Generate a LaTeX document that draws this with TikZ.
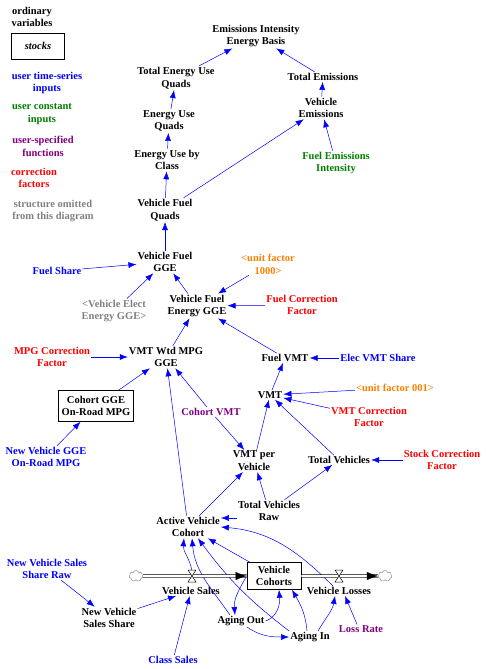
\documentclass[tikz,border=0pt]{standalone}
\usepackage{fontspec}
\setmainfont{Liberation Serif}
\usetikzlibrary{calc, positioning}
\usetikzlibrary{arrows.meta}
\usetikzlibrary{shapes.symbols}
\definecolor{vblue}{RGB}{0,0,255}
\definecolor{vgreen}{RGB}{0,128,0}
\definecolor{vpurple}{RGB}{128,0,128}
\definecolor{vred}{RGB}{255,0,0}
\definecolor{vorange}{RGB}{255,128,0}
\definecolor{vgray}{RGB}{128,128,128}

\begin{document}
\begin{tikzpicture}[x=1pt, y=1pt,
    var/.style={align=center, inner sep=1pt, font=\fontsize{10.5}{12.8}\selectfont\bfseries},
    stock/.style={var, draw, line width=0.6pt, inner sep=0pt},
    tsin/.style={var, text=vblue},
    cin/.style={var, text=vgreen},
    fun/.style={var, text=vpurple},
    corr/.style={var, text=vred},
    omit/.style={var, text=vgray},
    unitf/.style={var, text=vorange},
    link/.style={draw=vblue, line width=0.5pt, -{Latex[length=8pt,width=6pt]}},
    pipe/.style={double, double distance=2pt, line width=0.6pt},
    pipehead/.style={-{Latex[length=11pt,width=8pt]}, line width=0.2pt},
    cloudy/.style={cloud, cloud puffs=7, draw=vgray, aspect=1.2, minimum width=14pt, minimum height=11pt, inner sep=0pt},
    valve/.pic={\draw[fill=white, line width=0.5pt] (-4,6) -- (4,6) -- (-4,-6) -- (4,-6) -- cycle;}
  ]
    \useasboundingbox (0,0) rectangle (485,-669);

    \node[var] (lgord) at (32,-17) {ordinary\\variables};
    \node[stock, minimum width=53pt, minimum height=26pt, font=\fontsize{10.5}{12.8}\selectfont\bfseries\itshape] (lgstock) at (38,-46) {stocks};
    \node[tsin] (lgts) at (47,-83) {user time-series\\inputs};
    \node[cin] (lgconst) at (42,-114) {user constant\\inputs};
    \node[fun] (lgfun) at (43,-146) {user-specified\\functions};
    \node[corr] (lgcorr) at (34,-178) {correction\\factors};
    \node[omit] (lgomit) at (53,-211) {structure omitted\\from this diagram};

    \node[var] (eieb) at (256,-36) {Emissions Intensity\\Energy Basis};
    \node[var] (teuq) at (176,-78) {Total Energy Use\\Quads};
    \node[var] (totem) at (323,-77) {Total Emissions};
    \node[var] (vehem) at (321,-108) {Vehicle\\Emissions};
    \node[var] (euq) at (169,-121) {Energy Use\\Quads};
    \node[cin] (fei) at (336,-163) {Fuel Emissions\\Intensity};
    \node[var] (eubc) at (167,-160) {Energy Use by\\Class};
    \node[var] (vfq) at (165,-210) {Vehicle Fuel\\Quads};
    \node[var] (vfgge) at (165,-262) {Vehicle Fuel\\GGE};
    \node[tsin] (fshare) at (57,-271) {Fuel Share};
    \node[unitf] (uf1000) at (268,-264) {<unit factor\\1000>};
    \node[omit] (veegge) at (114,-311) {<Vehicle Elect\\Energy GGE>};
    \node[var] (vfegge) at (197,-306) {Vehicle Fuel\\Energy GGE};
    \node[corr] (fcf) at (302,-305) {Fuel Correction\\Factor};
    \node[corr] (mpgcf) at (52,-357) {MPG Correction\\Factor};
    \node[var] (vmtwtd) at (166,-357) {VMT Wtd MPG\\GGE};
    \node[var] (fuelvmt) at (285,-358) {Fuel VMT};
    \node[tsin] (elecvmt) at (378,-358) {Elec VMT Share};
    \node[stock, minimum width=75pt, minimum height=31pt] (cohgge) at (96,-406) {Cohort GGE\\On-Road MPG};
    \node[var] (vmt) at (270,-395) {VMT};
    \node[unitf] (uf001) at (395,-388) {<unit factor 001>};
    \node[corr] (vcf) at (369,-417) {VMT Correction\\Factor};
    \node[fun] (cohvmt) at (211,-412) {Cohort VMT};
    \node[tsin] (nvgge) at (46,-457) {New Vehicle GGE\\On-Road MPG};
    \node[var] (vmtpv) at (254,-461) {VMT per\\Vehicle};
    \node[var] (totveh) at (339,-460) {Total Vehicles};
    \node[corr] (scf) at (442,-460) {Stock Correction\\Factor};
    \node[var] (tvr) at (269,-511) {Total Vehicles\\Raw};
    \node[var] (avc) at (188,-527) {Active Vehicle\\Cohort};
    \node[stock, minimum width=54pt, minimum height=27pt] (vc) at (274,-576) {Vehicle\\Cohorts};
    \node[cloudy] (cloudl) at (136,-576) {};
    \node[cloudy] (cloudr) at (385,-576) {};
    \coordinate (vsvalve) at (192,-576);
    \coordinate (vlvalve) at (339,-576);
    \node[var] (vsales) at (191,-591) {Vehicle Sales};
    \node[var] (vlosses) at (339,-591) {Vehicle Losses};
    \node[tsin] (nvssr) at (47,-569) {New Vehicle Sales\\Share Raw};
    \node[var] (nvss) at (109,-618) {New Vehicle\\Sales Share};
    \node[var] (ageout) at (241,-621) {Aging Out};
    \node[var] (agein) at (310,-637) {Aging In};
    \node[fun] (lossrate) at (361,-629) {Loss Rate};
    \node[tsin] (clsales) at (173,-660) {Class Sales};

    \draw[link] (teuq) -- (eieb);
    \draw[link] (totem) -- (eieb);
    \draw[link] (vehem) -- (totem);
    \draw[link] (fei) -- (vehem);
    \draw[link] (euq) -- (teuq);
    \draw[link] (eubc) -- (euq);
    \draw[link] (vfq) -- (eubc);
    \draw[link] (vfq) -- (vehem);
    \draw[link] (vfgge) -- (vfq);
    \draw[link] (fshare) -- (vfgge);
    \draw[link] (veegge) -- (vfgge);
    \draw[link] (vfegge) -- (vfgge);
    \draw[link] (uf1000) -- (vfegge);
    \draw[link] (fcf) -- (vfegge);
    \draw[link] (fuelvmt) -- (vfegge);
    \draw[link] (vmtwtd) -- (vfegge);
    \draw[link] (elecvmt) -- (fuelvmt);
    \draw[link] (vmt) -- (fuelvmt);
    \draw[link] (uf001) -- (vmt);
    \draw[link] (vcf) -- (vmt);
    \draw[link] (totveh) -- (vmt);
    \draw[link] (vmtpv) -- (vmt);
    \draw[link] (mpgcf) -- (vmtwtd);
    \draw[link] (cohgge) -- (vmtwtd);
    \draw[link] (cohvmt) -- (vmtwtd);
    \draw[link] (avc) -- (vmtwtd);
    \draw[link] (nvgge) -- (cohgge);
    \draw[link] (cohvmt) -- (vmtpv);
    \draw[link] (avc) -- (vmtpv);
    \draw[link] (tvr) -- (vmtpv);
    \draw[link] (tvr) -- (totveh);
    \draw[link] (scf) -- (totveh);
    \draw[link] ([yshift=-7pt]tvr.west) -- ([yshift=9pt]avc.east);
    \draw[link] (vc) -- (avc);
    \draw[link] ([xshift=-6pt]vlosses.north) to[out=135, in=-5] (avc.east);
    \draw[link] ([yshift=5pt]vsvalve) to[out=100, in=-95] ([xshift=-4pt]avc.south);
    \draw[link] ([xshift=-11pt]ageout.north) to[out=125, in=-85] ([xshift=4pt]avc.south);
    \draw[link] (agein.north west) to[bend left=8] ([xshift=10pt]avc.south);
    \draw[link] (vc.west) to[out=-120, in=95] ([xshift=-6pt]ageout.north);
    \draw[link] (ageout.east) to[out=20, in=-85] ([xshift=5pt]vc.south);
    \draw[link] ([xshift=6pt]ageout.south) to[out=-35, in=180] (agein.west);
    \draw[link] ([xshift=-3pt]agein.north) to[out=95, in=-60] ([xshift=18pt]vc.south);
    \draw[link] ([xshift=8pt]agein.north) to[out=60, in=-100] ([xshift=-4pt]vlosses.south);
    \draw[link] ([xshift=-4pt]lossrate.north) -- ([xshift=6pt]vlosses.south);
    \draw[link] (nvssr) -- (nvss);
    \draw[link] (nvss) -- (vsales);
    \draw[link] (clsales) -- (vsales);

    \draw[pipe] (cloudl) -- (vc.west);
    \draw[pipehead] ([xshift=-11pt]vc.west) -- (vc.west);
    \draw[pipe] (vc.east) -- (cloudr);
    \draw[pipehead] ([xshift=-11pt]cloudr.west) -- (cloudr.west);
    \pic at (vsvalve) {valve};
    \pic at (vlvalve) {valve};
  \end{tikzpicture}
\end{document}
